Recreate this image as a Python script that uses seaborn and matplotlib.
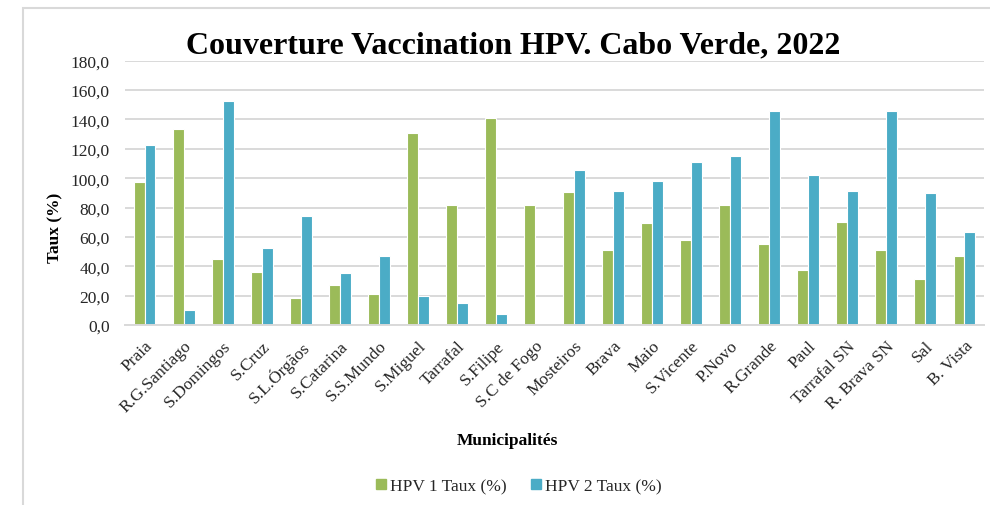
import matplotlib
matplotlib.use("Agg")
import matplotlib.pyplot as plt
import seaborn as sns
import pandas as pd
from matplotlib.patches import Rectangle
from matplotlib.lines import Line2D
from matplotlib.ticker import FuncFormatter

municipalities = ["Praia", "R.G.Santiago", "S.Domingos", "S.Cruz", "S.L.Órgãos",
                  "S.Catarina", "S.S.Mundo", "S.Miguel", "Tarrafal", "S.Filipe",
                  "S.C de Fogo", "Mosteiros", "Brava", "Maio", "S.Vicente", "P.Novo",
                  "R.Grande", "Paul", "Tarrafal SN", "R. Brava SN", "Sal", "B. Vista"]
hpv1 = [97.2, 133.5, 45.0, 36.3, 18.4, 27.0, 21.1, 130.8, 81.5, 140.7, 81.5,
        90.8, 50.9, 69.5, 57.7, 81.5, 55.4, 37.5, 70.0, 50.9, 31.1, 47.2]
hpv2 = [122.6, 10.0, 152.8, 52.4, 74.0, 35.6, 47.2, 20.0, 14.8, 7.3, 0.0,
        105.8, 91.3, 98.3, 111.0, 115.1, 145.8, 102.4, 91.3, 145.8, 90.1, 63.6]
series_names = ["HPV 1 Taux (%)", "HPV 2 Taux (%)"]
colors = ["#9BBB59", "#4BACC6"]

df = pd.DataFrame({
    "Municipalité": municipalities * 2,
    "Taux": hpv1 + hpv2,
    "Série": [series_names[0]] * len(hpv1) + [series_names[1]] * len(hpv2),
})

sns.set_theme(style="white")
plt.rcParams["font.family"] = ["Liberation Serif", "DejaVu Serif"]

fig = plt.figure(figsize=(9.9, 5.06), dpi=100)
ax = fig.add_axes([125 / 990, 1 - 326 / 506, (984 - 125) / 990, (326 - 61.7) / 506])

sns.barplot(data=df, x="Municipalité", y="Taux", hue="Série", palette=colors,
            width=0.56, ax=ax, edgecolor="white", linewidth=0.8, legend=False,
            saturation=1)

ax.set_ylim(0, 180)
ax.set_yticks(range(0, 181, 20))
ax.yaxis.set_major_formatter(FuncFormatter(lambda v, p: f"{v:.1f}".replace(".", ",")))
ax.grid(axis="y", color="#d9d9d9", linewidth=1.4)
ax.set_axisbelow(True)
for s in ["top", "right", "left"]:
    ax.spines[s].set_visible(False)
ax.spines["bottom"].set_color("#d9d9d9")
ax.spines["bottom"].set_linewidth(1.4)
ax.tick_params(axis="y", length=0, pad=11, labelsize=12.5, labelcolor="#262626")
ax.tick_params(axis="x", length=0, pad=9, labelsize=12.5, labelcolor="#262626")
plt.setp(ax.get_xticklabels(), rotation=45, ha="right", rotation_mode="anchor")
ax.set_xlabel("")
ax.set_ylabel("")
ax.set_xlim(-0.5, len(municipalities) - 0.5)

fig.text(513 / 990, 1 - 53 / 506, "Couverture Vaccination HPV. Cabo Verde, 2022",
         ha="center", va="baseline", fontsize=23, fontweight="bold", color="black")
fig.text(55 / 990, 1 - 228 / 506, "Taux (%)", rotation=90, ha="center", va="center",
         fontsize=12.5, fontweight="bold", color="black")
fig.text(507 / 990, 1 - 441 / 506, "Municipalités", ha="center", va="center",
         fontsize=12.5, fontweight="bold", color="black")

handles = [Line2D([0], [0], marker="s", linestyle="none", markersize=6.5,
                  markerfacecolor=c, markeredgecolor=c) for c in colors]
fig.legend(handles, series_names, loc="center", bbox_to_anchor=(516 / 990, 1 - 487 / 506),
           ncol=2, frameon=False, fontsize=12.5, handletextpad=-0.1, columnspacing=1.1,
           handlelength=1.2, labelcolor="#262626")

fig.add_artist(Rectangle((22.5 / 990, -0.1), 1.2, 1 - 9 / 506 + 0.1,
                         transform=fig.transFigure, fill=False,
                         edgecolor="#d9d9d9", linewidth=1.5))

fig.savefig("out.png", dpi=100)
